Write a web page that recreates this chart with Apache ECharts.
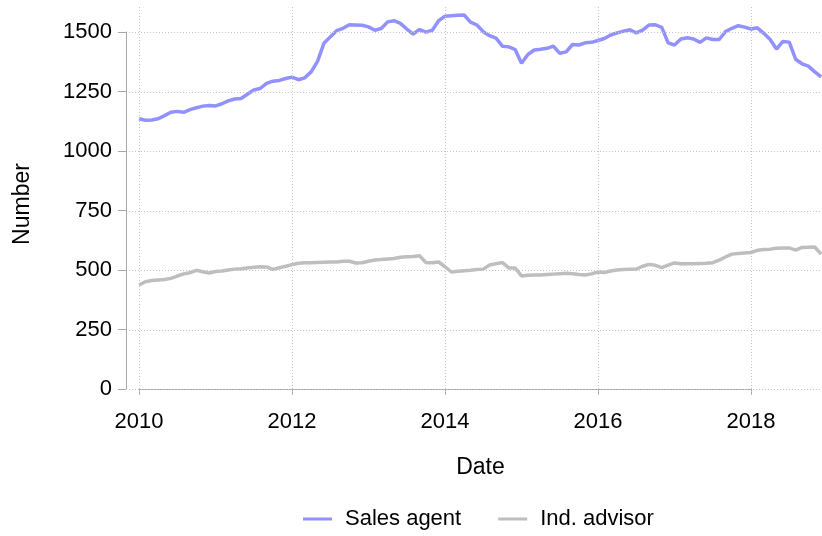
<!DOCTYPE html>
<html>
<head>
<meta charset="utf-8">
<script src="https://cdn.jsdelivr.net/npm/echarts@6/dist/echarts.min.js"></script>
<style>
html,body{margin:0;padding:0;background:#fff;}
#c{width:822px;height:536px;}
</style>
</head>
<body>
<div id="c"></div>
<script>
// Monthly data, Jan 2010 .. Dec 2018
const startYear = 2010;
const salesAgent = [
1137,1131,1132,1137,1150,1164,1168,1164,1175,1183,1190,1193,
1191,1200,1212,1220,1222,1240,1258,1264,1286,1295,1298,1306,
1312,1301,1309,1334,1378,1454,1481,1507,1517,1532,1531,1530,
1523,1509,1516,1544,1549,1538,1514,1493,1512,1501,1509,1549,
1568,1570,1572,1573,1543,1531,1503,1486,1476,1442,1439,1428,
1370,1407,1426,1429,1433,1442,1412,1418,1449,1447,1456,1458,
1466,1474,1489,1498,1505,1511,1498,1509,1531,1532,1521,1456,
1447,1472,1477,1472,1458,1477,1470,1470,1503,1517,1528,1522,
1514,1519,1496,1470,1430,1462,1459,1387,1368,1358,1334,1313
];
const indAdvisor = [
438,452,457,459,461,466,476,485,490,500,494,489,
495,497,501,505,507,510,513,515,514,504,511,517,
524,530,532,532,533,534,535,535,538,538,531,532,
538,543,545,548,550,555,557,558,561,533,532,535,
515,493,496,498,500,503,505,522,528,533,510,510,
476,479,480,480,482,484,486,488,486,482,480,485,
493,491,497,501,503,504,505,517,525,521,511,522,
531,528,528,528,529,530,532,543,556,568,571,573,
575,584,587,589,593,594,594,585,596,597,598,568
];
const xTicks = [2010, 2012, 2014, 2016, 2018];
const yTicks = [0, 250, 500, 750, 1000, 1250, 1500];
const seriesNames = ['Sales agent', 'Ind. advisor'];

const toPairs = arr => arr.map((v, i) => [startYear + i / 12, v]);

const FONT = 'Liberation Sans, Arial, Helvetica, sans-serif';
const axisGray = '#a8a8a8';
const gridGray = '#c4c4c4';

const chart = echarts.init(document.getElementById('c'), null, {renderer: 'canvas'});
chart.setOption({
  animation: false,
  backgroundColor: '#fff',
  textStyle: {fontFamily: FONT},
  grid: [
    {left: 139, right: 71, top: 32, bottom: 147},
    {left: 129, right: 0, top: 5, bottom: 141}
  ],
  xAxis: [
    {
      gridIndex: 0, type: 'value', min: xTicks[0], max: xTicks[xTicks.length - 1], interval: 2,
      offset: 13,
      axisLine: {show: true, lineStyle: {color: axisGray, width: 1}},
      axisTick: {show: true, length: 6, lineStyle: {color: axisGray}},
      axisLabel: {fontSize: 22, color: '#000', margin: 9, fontFamily: FONT, formatter: v => String(v)},
      splitLine: {show: false}
    },
    {
      gridIndex: 1, type: 'value', min: 2009.869, max: 2018.928,
      axisLine: {show: false}, axisTick: {show: false}, axisLabel: {show: false}, splitLine: {show: false},
      name: 'Date', nameLocation: 'middle', nameGap: 61,
      nameTextStyle: {fontSize: 23, color: '#000', fontFamily: FONT, padding: [0, 0, 0, 10]}
    }
  ],
  yAxis: [
    {
      gridIndex: 0, type: 'value', min: yTicks[0], max: yTicks[yTicks.length - 1], interval: 250,
      offset: 13,
      axisLine: {show: true, lineStyle: {color: axisGray, width: 1}},
      axisTick: {show: true, length: 8, lineStyle: {color: axisGray}},
      axisLabel: {fontSize: 22, color: '#000', margin: 14, fontFamily: FONT, formatter: v => String(v)},
      splitLine: {show: false}
    },
    {
      gridIndex: 1, type: 'value', min: -24, max: 1615,
      axisLine: {show: false}, axisTick: {show: false}, axisLabel: {show: false}, splitLine: {show: false},
      name: 'Number', nameLocation: 'middle', nameGap: 95,
      nameTextStyle: {fontSize: 23, color: '#000', fontFamily: FONT, padding: [0, 8, 0, 0]}
    }
  ],
  legend: {
    data: seriesNames,
    left: 298, top: 503,
    icon: 'rect', itemWidth: 29, itemHeight: 3, itemGap: 37,
    textStyle: {fontSize: 22, color: '#000', fontFamily: FONT, padding: [0, 0, 0, 8]}
  },
  series: [
    {
      name: 'grid', type: 'line', xAxisIndex: 1, yAxisIndex: 1, data: [], z: 0, silent: true,
      markLine: {
        silent: true, symbol: ['none', 'none'], animation: false,
        label: {show: false},
        lineStyle: {color: gridGray, type: [1, 2], width: 1},
        data: yTicks.map(v => ({yAxis: v})).concat(xTicks.map(v => ({xAxis: v})))
      }
    },
    {
      name: seriesNames[0], type: 'line', xAxisIndex: 1, yAxisIndex: 1,
      data: toPairs(salesAgent), showSymbol: false, z: 3,
      lineStyle: {color: '#9191ff', width: 3.5}, itemStyle: {color: '#9191ff'}
    },
    {
      name: seriesNames[1], type: 'line', xAxisIndex: 1, yAxisIndex: 1,
      data: toPairs(indAdvisor), showSymbol: false, z: 2,
      lineStyle: {color: '#bebebe', width: 3.5}, itemStyle: {color: '#bebebe'}
    }
  ]
});
</script>
</body>
</html>
